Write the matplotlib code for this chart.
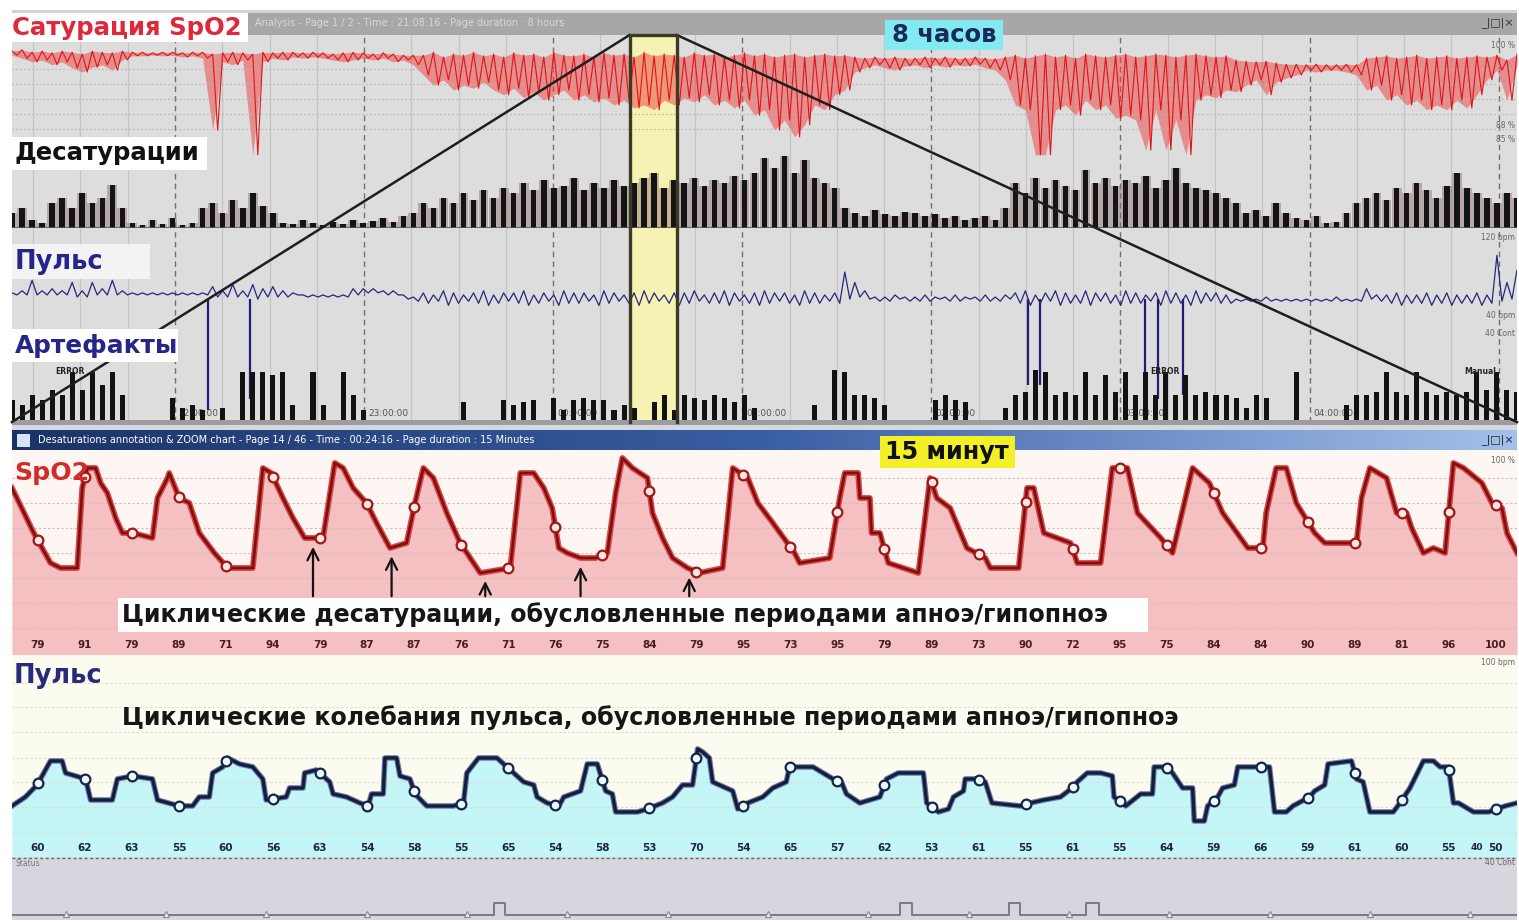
import numpy as np
import matplotlib.pyplot as plt
from matplotlib.patches import Rectangle
from matplotlib.colors import LinearSegmentedColormap

W, H = 1519, 922

# ---- 8 hour overview: one sample every ~3.2 min, 21:08 .. 05:06
T0, T1 = 21.138, 29.097
STEP = (T1 - T0) / 150
Z0 = 24.404          # zoom page starts 00:24:16
Z1 = Z0 + 0.25       # page duration 15 min

spo2_hi = [99.0, 99.2, 98.8, 99.0, 98.7, 99.0, 98.8, 98.5, 99.0, 98.8, 98.7, 99.0,
           98.8, 98.8, 98.7, 98.8, 98.8, 98.7, 98.8, 98.8, 98.5, 98.7, 98.8, 98.7, 98.5, 98.8,
           98.7, 98.8, 98.8, 98.7, 98.8, 98.7, 98.5, 98.7, 98.8, 98.7, 98.5, 98.7, 98.5, 98.3, 98.3,
           98.3, 98.8, 98.0, 98.5, 98.3, 98.8, 98.2, 98.5, 98.0, 98.7, 98.3, 98.5, 98.0, 98.8, 98.3,
           98.2, 98.5, 98.0, 98.7, 98.3, 98.5, 98.0, 98.8, 98.2, 98.5, 98.3, 98.0, 98.7, 98.3, 98.5,
           98.0, 98.3, 98.7, 98.2, 98.5, 98.0, 98.3, 98.5, 98.0, 98.3, 98.5, 98.2, 98.3,
           98.0, 97.8, 98.0, 97.8, 98.0, 97.8, 97.8, 98.0, 97.8, 98.0, 97.8, 97.8, 98.0, 97.8, 97.7,
           98.0, 98.3, 97.8, 98.2, 98.5, 98.0, 98.3, 97.8, 98.5, 98.2, 98.0, 98.3, 98.5, 98.0, 98.2,
           98.5, 98.3, 98.0, 98.3, 98.5, 98.2, 98.0, 98.2,
           97.5, 97.3, 97.2, 97.3, 97.0, 96.8, 96.8, 96.7, 96.8, 96.7, 96.7, 96.8, 96.7,
           97.8, 98.0, 98.2, 97.8, 98.0, 98.3, 97.8, 98.0, 98.2, 97.8, 98.0, 98.2, 98.0,
           98.3, 97.5, 98.5]
spo2_lo = [98.3, 97.8, 97.2, 97.5, 96.7, 97.2, 96.2, 95.5, 96.3, 96.7, 95.8, 97.5,
           98.2, 98.2, 98.3, 98.2, 98.3, 98.0, 98.2, 97.8, 85.8, 97.2, 96.7, 97.5, 81.7, 97.2,
           97.8, 97.5, 98.0, 97.8, 98.0, 97.8, 97.5, 97.2, 97.5, 97.8, 97.5, 97.8, 97.2, 97.5, 96.7,
           95.0, 93.3, 94.2, 92.5, 93.3, 92.8, 93.8, 92.5, 91.7, 92.8, 91.2, 92.2, 90.8, 91.7, 92.5,
           90.8, 91.7, 90.5, 91.2, 90.0, 90.8, 89.5, 90.0, 89.2, 90.8, 90.0, 91.2, 90.5, 91.7, 90.0,
           90.8, 89.5, 90.8, 88.3, 89.2, 85.8, 87.5, 84.7, 86.7, 90.0, 89.2, 91.7, 92.5,
           95.5, 96.2, 96.7, 96.2, 95.8, 96.5, 96.7, 96.2, 96.7, 96.3, 96.7, 96.5, 96.8, 96.2, 95.8,
           94.2, 90.0, 89.2, 81.7, 81.7, 89.2, 90.0, 88.3, 90.8, 89.2, 90.0, 87.8, 88.3, 87.5, 82.5,
           89.2, 82.5, 87.5, 81.7, 90.8, 91.7, 91.2, 92.5,
           92.2, 93.3, 94.2, 91.7, 93.8, 94.5, 95.0, 95.8, 95.5, 95.8, 95.8, 95.5, 95.0,
           92.5, 93.3, 90.8, 91.7, 90.0, 90.8, 89.2, 90.0, 89.2, 90.8, 89.5, 91.7, 94.2,
           95.8, 90.8, 96.7]
desat = [15, 20, 8, 5, 25, 30, 20, 35, 25, 30, 43, 20, 5, 3, 8, 4, 10, 3, 5, 20,
         25, 15, 28, 20, 35, 22, 15, 5, 4, 8, 5, 3, 6, 4, 8, 5, 7, 10, 6, 12,
         15, 25, 20, 30, 25, 35, 28, 38, 30, 40, 35, 45, 38, 48, 40, 42, 50, 38, 45, 40,
         48, 42, 45, 50, 55, 40, 48, 45, 50, 42, 48, 45, 52, 48, 55, 70, 60, 72, 55, 68,
         50, 45, 40, 20, 15, 12, 18, 14, 12, 16, 15, 12, 14, 10, 12, 8, 10, 12, 8, 20,
         45, 35, 50, 40, 48, 42, 38, 58, 45, 50, 42, 48, 45, 52, 40, 48, 60, 45, 40, 38,
         35, 30, 25, 15, 18, 12, 25, 15, 10, 8, 12, 5, 6, 15, 25, 30, 35, 28, 40, 35,
         45, 38, 30, 42, 55, 40, 35, 30, 25, 35, 30]
pulse_hi = [61, 62, 67, 62, 63, 62, 66, 62, 66, 63, 67, 62,
            61, 61, 61, 61, 61, 61, 61, 61,
            64, 62, 65, 62, 65, 63, 64, 62, 61,
            60, 60, 60, 60, 60, 63, 63, 63, 62, 62, 60, 59,
            61, 60, 62, 61, 60, 61, 62, 60, 61, 61, 62, 60, 61, 60, 62, 61, 61, 60, 62, 61, 60,
            61, 62, 61, 60, 61, 61, 62, 60, 61, 62, 61, 60, 61, 62, 61, 61, 60, 62, 61, 60, 61,
            71, 66, 62,
            59, 59, 60, 59, 59, 60, 59, 59, 60, 59, 59, 60, 59, 60,
            61, 62, 60, 61, 62, 61, 60, 62, 61, 61, 60, 62, 61, 60, 61, 62, 61, 60, 62, 61, 61, 60,
            58, 58, 58, 59, 58, 58, 58, 58, 58, 58, 59, 58, 58,
            63, 60, 60, 61, 60, 60, 61, 60, 61, 60, 60, 61, 60,
            79, 66, 72]
pulse_lo = [60, 60, 60, 60, 60, 60, 59, 59, 60, 60, 60, 60,
            60, 60, 60, 60, 60, 60, 60, 60,
            59, 59, 59, 59, 58, 59, 59, 59, 60,
            59, 59, 59, 59, 59, 60, 61, 61, 60, 60, 58, 57,
            56, 57, 55, 56, 57, 56, 55, 56, 57, 56, 55, 56, 57, 55, 56, 56, 57, 55, 56, 57, 56,
            55, 56, 57, 56, 55, 56, 57, 56, 56, 55, 57, 56, 55, 56, 57, 56, 55, 56, 56, 57, 56,
            58, 59, 58,
            57, 57, 58, 57, 57, 57, 58, 57, 57, 58, 57, 57, 57, 58,
            56, 55, 56, 57, 55, 56, 56, 55, 57, 56, 55, 56, 56, 57, 55, 56, 56, 55, 56, 57, 56, 56,
            57, 57, 57, 57, 57, 57, 57, 57, 57, 57, 57, 57, 57,
            58, 57, 56, 55, 56, 56, 55, 56, 55, 56, 56, 55, 56,
            57, 58, 60]
artefacts = [20, 15, 25, 20, 30, 25, 48, 30, 48, 35, 48, 25, 0, 0, 0, 0, 22, 12, 15, 10,
             0, 12, 0, 48, 48, 48, 45, 48, 15, 0, 48, 15, 0, 48, 25, 10, 0, 0, 0, 0,
             0, 0, 0, 0, 0, 18, 0, 0, 0, 20, 15, 18, 20, 0, 22, 10, 20, 22, 20, 20,
             10, 15, 12, 0, 18, 25, 10, 25, 22, 20, 25, 22, 18, 25, 12, 0, 0, 0, 0, 0,
             15, 0, 50, 48, 25, 25, 22, 15, 0, 0, 0, 0, 20, 25, 20, 18, 0, 0, 0, 12,
             25, 28, 50, 48, 25, 28, 25, 48, 25, 45, 28, 48, 25, 48, 25, 48, 25, 45, 25, 28,
             25, 25, 22, 12, 25, 22, 0, 0, 48, 0, 0, 0, 0, 15, 25, 25, 28, 48, 28, 25,
             48, 28, 25, 28, 25, 28, 48, 30, 48, 30, 28]
drop_t = [22.174, 22.397, 26.511, 26.574, 27.130, 27.198, 27.330]
drop_lo = [5, 10, 17, 17, 10, 10, 12]
hour_labels = ['22:00:00', '23:00:00', '00:00:00', '01:00:00', '02:00:00', '03:00:00', '04:00:00']

# ---- 15 minute zoom page, seconds from 00:24:16
zs_t = [0, 13, 23, 29, 39, 42, 45, 50, 53, 57, 62, 66, 72, 84, 87, 93, 94, 100, 106, 112,
        121, 129, 144, 150, 155, 162, 168, 175, 186, 193, 198, 204, 212, 218, 226, 236, 241, 246,
        252, 260, 268, 280, 298, 304, 312, 318, 323, 327, 332, 340, 349, 356, 361, 365, 371, 380,
        383, 389, 395, 404, 411, 425, 431, 440, 446, 455, 468, 471, 489, 495, 498, 506, 507, 513,
        514, 519, 524, 542, 549, 553, 561, 571, 582, 585, 602, 607, 611, 617, 633, 637, 651, 658,
        667, 673, 687, 694, 706, 716, 724, 739, 748, 750, 756, 762, 768, 779, 785, 804, 807, 812,
        822, 828, 834, 837, 844, 850, 857, 862, 868, 879, 885, 891, 894, 900]
zs_v = [93, 84, 78, 77, 77, 93, 97, 97, 94, 92, 87, 84, 84, 83, 91, 95, 96, 91, 90, 84,
        80, 77, 77, 97, 96, 91, 87, 83, 83, 98, 97, 93, 90, 86, 81, 82, 90, 97,
        95, 88, 82, 76, 77, 96, 96, 93, 89, 81, 80, 79, 79, 80, 92, 99, 97, 95,
        88, 83, 79, 77, 76, 77, 97, 95, 90, 86, 80, 78, 79, 91, 96, 96, 91, 91,
        84, 84, 78, 76, 95, 91, 89, 81, 79, 77, 77, 93, 93, 84, 82, 78, 78, 97,
        97, 88, 83, 80, 97, 94, 88, 81, 81, 88, 97, 97, 90, 84, 82, 82, 91, 97,
        95, 88, 88, 85, 80, 81, 80, 98, 97, 94, 90, 89, 84, 80]
zp_t = [0, 8, 15, 23, 30, 32, 44, 47, 60, 63, 72, 84, 87, 100, 108, 112, 118, 120, 126, 129,
        136, 144, 150, 152, 164, 166, 174, 175, 182, 190, 192, 200, 208, 213, 215, 222, 223, 230,
        232, 238, 241, 248, 264, 270, 272, 279, 290, 298, 306, 312, 314, 320, 327, 330, 340, 344,
        350, 355, 359, 361, 374, 380, 389, 395, 401, 407, 410, 413, 417, 419, 431, 434, 440, 449,
        455, 463, 465, 479, 485, 491, 496, 499, 507, 519, 523, 530, 545, 547, 554, 560, 563, 569,
        570, 576, 582, 586, 603, 609, 617, 627, 634, 637, 643, 651, 658, 659, 666, 675, 682, 683,
        690, 694, 700, 706, 707, 713, 715, 721, 724, 731, 733, 752, 755, 762, 766, 776, 779, 785,
        787, 801, 804, 808, 812, 826, 830, 836, 844, 850, 854, 859, 862, 865, 874, 883, 888, 893, 900]
zp_v = [52, 55, 59, 67, 67, 63, 61, 54, 54, 61, 62, 61, 54, 52, 52, 55, 55, 63, 65, 68,
        66, 65, 61, 54, 55, 58, 58, 63, 64, 60, 56, 55, 53, 52, 56, 56, 68, 68,
        62, 61, 56, 52, 52, 53, 63, 68, 68, 64, 60, 59, 55, 53, 52, 55, 57, 66,
        66, 57, 56, 50, 50, 51, 53, 55, 59, 59, 71, 70, 68, 60, 57, 51, 53, 55,
        58, 60, 65, 65, 63, 61, 60, 56, 53, 55, 61, 63, 63, 53, 50, 51, 55, 57,
        61, 61, 60, 53, 52, 53, 54, 55, 58, 60, 63, 63, 62, 55, 52, 56, 56, 65,
        65, 63, 58, 58, 47, 47, 52, 55, 58, 59, 65, 65, 50, 50, 52, 55, 57, 59,
        66, 67, 61, 60, 50, 50, 53, 58, 67, 67, 65, 65, 53, 53, 50, 50, 51, 52, 53]
spo2_marks = [79, 91, 79, 89, 71, 94, 79, 87, 87, 76, 71, 76, 75, 84, 79, 95,
              73, 95, 79, 89, 73, 90, 72, 95, 75, 84, 84, 90, 89, 81, 96, 100]
pulse_marks = [60, 62, 63, 55, 60, 56, 63, 54, 58, 55, 65, 54, 58, 53, 70, 54,
               65, 57, 62, 53, 61, 55, 61, 55, 64, 59, 66, 59, 61, 60, 55, 50]
arrow_t = [180, 227, 283, 340, 405]
status_on = [(288, 295), (531, 538), (596, 603), (642, 650)]

BOLD = dict(family='DejaVu Sans', fontweight='bold')


def box(x0, y0, x1, y1, fc='none'):
    # axes placed by pixel edges (y counted from the top of the picture)
    ax = fig.add_axes([x0 / W, 1 - y1 / H, (x1 - x0) / W, (y1 - y0) / H])
    ax.set_facecolor(fc)
    ax.set_xticks([])
    ax.set_yticks([])
    for s in ax.spines.values():
        s.set_visible(False)
    return ax


def patch(x0, y0, x1, y1, fc):
    fig.add_artist(Rectangle((x0 / W, 1 - y1 / H), (x1 - x0) / W, (y1 - y0) / H,
                             transform=fig.transFigure, fc=fc, ec='none', zorder=1))


def label(x, y, s, size, color, ha='left', **kw):
    fig.text(x / W, 1 - y / H, s, fontsize=size, color=color, ha=ha, va='center', zorder=3, **kw)


fig = plt.figure(figsize=(W / 100, H / 100), dpi=100)
fig.patch.set_facecolor('white')

t_top = T0 + np.arange(151) * STEP

# ---------------- overview window
bar = box(12, 10, 1517, 35, '#a7a7a7')
box(12, 10, 1517, 13, '#cfd3da')
bg = box(12, 35, 1517, 422, '#dddddd')
bg.set_xlim(T0, T1)
bg.set_ylim(0, 1)
for q in np.arange(21.25, T1, 0.25):
    if abs(q - round(q)) < 1e-6:
        bg.axvline(q, color='#707070', lw=1.0, ls=(0, (4, 3)))
    else:
        bg.axvline(q, color='#c4c4c4', lw=0.9)
bg.axvspan(Z0, Z1, color='#f6f2b4', zorder=3)
for h, lab in zip(range(22, 29), hour_labels):
    bg.text(h + 0.02, 0.022, lab, fontsize=6.5, color='#555555', va='center', zorder=4)
box(12, 420, 1517, 425, '#9c9c9c')
box(12, 425, 1517, 430, '#d4d8e0')

ax1 = box(12, 35, 1517, 175)
ax1.set_xlim(T0, T1)
ax1.set_ylim(78.33, 101.67)
for lv in [96, 93.5, 91, 88.5, 86]:
    ax1.axhline(lv, color='#b8b8b8', lw=0.8, ls=(0, (1.5, 2)))
zx = np.column_stack([t_top, t_top + STEP / 2]).ravel()
zy = np.column_stack([spo2_hi, spo2_lo]).ravel()
ax1.fill_between(t_top, spo2_lo, spo2_hi, color='#ee3c3c', alpha=0.5, lw=0)
ax1.plot(zx, zy, color='#e01414', lw=0.8)

ax2 = box(12, 140, 1517, 228)
ax2.set_xlim(T0, T1)
ax2.set_ylim(0, 88)
ax2.bar(t_top, desat, width=STEP * 0.98, color='#8a6a6a', alpha=0.45)
ax2.bar(t_top, desat, width=STEP * 0.55, color='#141414')
ax2.axhline(0, color='#555555', lw=1.2)

ax3 = box(12, 232, 1517, 420)
ax3.set_xlim(T0, T1)
ax3.set_ylim(0, 90.2)
ax3.vlines(drop_t, drop_lo, 58, color='#1e1e78', lw=1.6)
px = np.column_stack([t_top, t_top + STEP / 2]).ravel()
py = np.column_stack([pulse_hi, pulse_lo]).ravel()
ax3.plot(px, py, color='#26267e', lw=0.9)

ax4 = box(12, 340, 1517, 420)
ax4.set_xlim(T0, T1)
ax4.set_ylim(0, 80)
ax4.bar(t_top, artefacts, width=STEP * 0.5, color='#121212')

ov = box(12, 35, 1517, 422)
ov.set_xlim(T0, T1)
ov.set_ylim(0, 1)
ov.plot([Z0, T0], [1, 0], color='#1e1e1e', lw=1.8, clip_on=False)
ov.plot([Z1, T1], [1, 0], color='#1e1e1e', lw=1.8, clip_on=False)
ov.plot([Z0, Z0, Z1, Z1], [0, 1, 1, 0], color='#3a3a26', lw=2.4, clip_on=False)

# ---------------- zoom window title bar
tb = box(12, 430, 1517, 450)
cm = LinearSegmentedColormap.from_list('tb', ['#1a3366', '#3a5ea4', '#a3c0ea'])
tb.imshow(np.linspace(0, 1, 256)[None, :], aspect='auto', cmap=cm, extent=(0, 1, 0, 1))
tb.set_xlim(0, 1)
tb.set_ylim(0, 1)

# ---------------- SpO2 zoom
axs = box(12, 450, 1517, 655, '#fdf6f3')
axs.set_xlim(0, 900)
axs.set_ylim(59.6, 100.6)
axs.fill_between(zs_t, zs_v, 50, color='#f5c0c1', lw=0, zorder=1)
for lv in [95, 90, 85, 80, 75, 70, 65]:
    axs.axhline(lv, color='#d6b8b8', lw=0.8, ls=(0, (2, 2)), zorder=2)
axs.plot(zs_t, zs_v, color='#e04444', lw=4.2, zorder=3)
axs.plot(zs_t, zs_v, color='#7a1212', lw=2.0, zorder=4)
mark_t = 15.5 + 28.125 * np.arange(32)
axs.plot(mark_t, np.interp(mark_t, zs_t, zs_v), 'o', ms=7, mfc='#fde6e6', mec='#a01818',
         mew=1.6, zorder=5)
for t, v in zip(mark_t, spo2_marks):
    axs.text(t, 61.6, str(v), ha='center', va='center', fontsize=7.5, color='#4a1c1c', **BOLD)
for t in arrow_t:
    tip = np.interp(t, zs_t, zs_v) - 1.2
    axs.annotate('', xy=(t, tip), xytext=(t, 70.8),
                 arrowprops=dict(arrowstyle='->', lw=1.6, color='#111111', mutation_scale=20),
                 zorder=6)

# ---------------- pulse zoom
axp = box(12, 655, 1517, 857, '#fbfbf0')
axp.set_xlim(0, 900)
axp.set_ylim(35, 102.3)
axp.fill_between(zp_t, zp_v, 20, color='#c4f5f7', lw=0, zorder=1)
for lv in [93, 85, 76.5, 68, 60, 51.5, 43]:
    axp.axhline(lv, color='#dcdcd0', lw=0.8, ls=(0, (2, 2)), zorder=2)
axp.plot(zp_t, zp_v, color='#6a7aa8', lw=4.0, zorder=3)
axp.plot(zp_t, zp_v, color='#141e3c', lw=2.4, zorder=4)
axp.plot(mark_t, np.interp(mark_t, zp_t, zp_v), 'o', ms=7, mfc='#e8fbfb', mec='#18244a',
         mew=1.6, zorder=5)
for t, v in zip(mark_t, pulse_marks):
    axp.text(t, 38, str(v), ha='center', va='center', fontsize=7.5, color='#1c2448', **BOLD)
axp.text(876, 38, '40', ha='center', va='center', fontsize=6.5, color='#1c2448', **BOLD)

# ---------------- status strip
st = box(12, 857, 1517, 920, '#d6d6de')
st.set_xlim(0, 900)
st.set_ylim(0, 1)
st.axhline(0.985, color='#666666', lw=1.0, ls=(0, (2, 2)))
sx, sy = [0], [0.08]
for a, b in status_on:
    sx += [a, a, b, b]
    sy += [0.08, 0.27, 0.27, 0.08]
sx.append(900)
sy.append(0.08)
st.plot(sx, sy, color='#7a7a80', lw=1.4)
st.plot(np.arange(32, 900, 60), np.full(15, 0.1), '^', ms=4, mfc='#eeeeee', mec='#8a8a8a', mew=0.8)

# ---------------- boxes behind labels
patch(10, 13, 248, 42, 'white')
patch(12, 137, 207, 170, 'white')
patch(12, 244, 150, 279, '#f3f3f3')
patch(12, 329, 178, 362, 'white')
patch(118, 598, 1148, 632, 'white')
patch(885, 20, 1003, 50, '#82eaf0')
patch(880, 436, 1015, 468, '#f4f028')

# ---------------- texts
label(255, 23, 'Analysis - Page 1 / 2 - Time : 21:08:16 - Page duration : 8 hours', 7, '#d8d8d8')
label(1514, 23, '_|□|×', 8, '#333333', ha='right')
label(38, 440, 'Desaturations annotation & ZOOM chart - Page 14 / 46 - Time : 00:24:16 - '
      'Page duration : 15 Minutes', 7, 'white')
label(1514, 440, '_|□|×', 8, '#222222', ha='right')
patch(17, 434, 30, 447, '#d8e4f4')

label(12, 28, 'Сатурация SpO2', 17.6, '#e0283a', **BOLD)
label(15, 153, 'Десатурации', 17.6, '#111111', **BOLD)
label(15, 262, 'Пульс', 18.5, '#26268a', **BOLD)
label(15, 346, 'Артефакты', 17.8, '#26268a', **BOLD)
label(944, 35, '8 часов', 17.5, '#1a2a5a', ha='center', **BOLD)
label(947, 452, '15 минут', 17.2, '#111111', ha='center', **BOLD)
label(14, 473, 'SpO2', 18.2, '#d42a2a', **BOLD)
label(14, 676, 'Пульс', 18.5, '#2a2a7a', **BOLD)
label(122, 615, 'Циклические десатурации, обусловленные периодами апноэ/гипопноэ', 17.1,
      '#161616', **BOLD)
label(122, 718, 'Циклические колебания пульса, обусловленные периодами апноэ/гипопноэ', 17.1,
      '#161616', **BOLD)

for x, y, s in [(1515, 45, '100 %'), (1515, 125, '88 %'), (1515, 140, '85 %'),
                (1515, 237, '120 bpm'), (1515, 315, '40 bpm'), (1515, 333, '40 Cont'),
                (1515, 460, '100 %'), (1515, 662, '100 bpm'), (1515, 862, '40 Cont')]:
    label(x, y, s, 5.5, '#666666', ha='right')
label(16, 863, 'Status', 5.5, '#777777')
for x, s in [(70, 'ERROR'), (1165, 'ERROR'), (1480, 'Manual')]:
    label(x, 372, s, 5.5, '#222222', ha='center', fontweight='bold')

fig.savefig('out.png', dpi=100, facecolor='white')
